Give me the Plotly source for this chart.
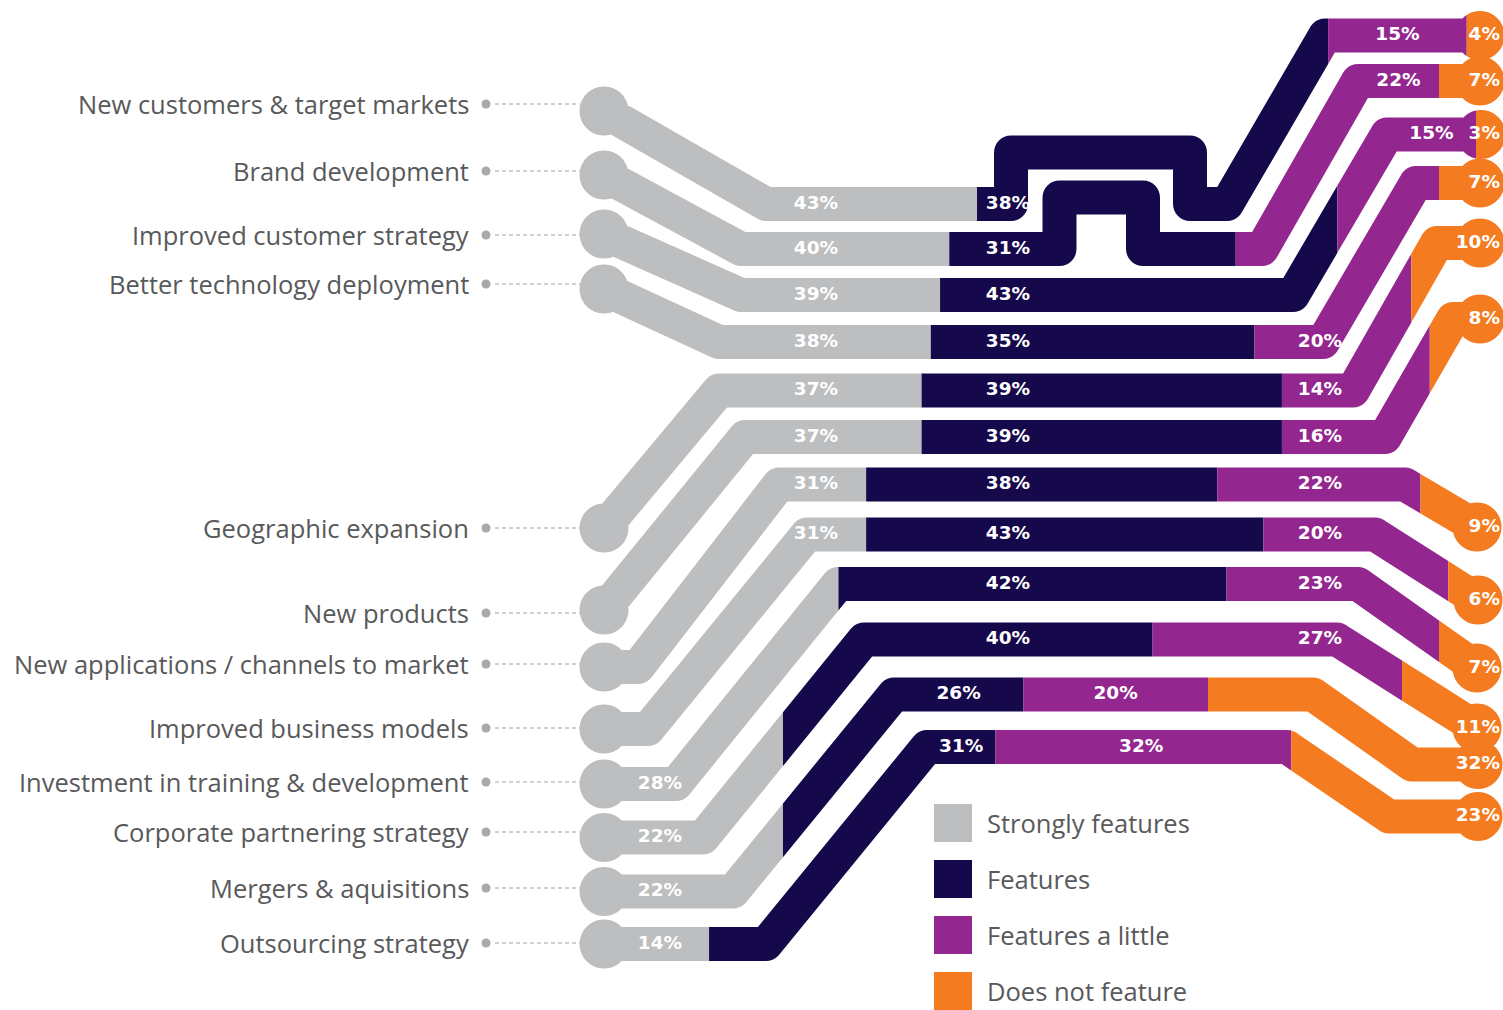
import numpy as np
import plotly.graph_objects as go

categories = ["New customers & target markets", "Brand development",
              "Improved customer strategy", "Better technology deployment",
              "Geographic expansion", "New products",
              "New applications / channels to market", "Improved business models",
              "Investment in training & development", "Corporate partnering strategy",
              "Mergers & aquisitions", "Outsourcing strategy"]
strongly = [43, 40, 39, 38, 37, 37, 31, 31, 28, 22, 22, 14]
features = [38, 31, 43, 35, 39, 39, 38, 43, 42, 40, 26, 31]
a_little = [15, 22, 15, 20, 14, 16, 22, 20, 23, 27, 20, 32]
not_feat = [4, 7, 3, 7, 10, 8, 9, 6, 7, 11, 32, 23]
series_names = ["Strongly features", "Features", "Features a little", "Does not feature"]
colors = ["#bcbec0", "#15084b", "#93278f", "#f47b20"]

# page geometry (pixels)
W, H = 1503, 1010
X0, K = 579.7, 9.24      # pixel of 0 % and pixels per percentage point
HALF = 17                # half thickness of a track
R_END = 24.5             # radius of the end discs

label_y = [104, 171, 235, 284, 528, 613, 664, 728, 782, 832, 888, 943]
row_y = [204, 249, 295, 342, 390.5, 437, 484.5, 534.5, 584, 639.5, 694.5, 747]
# track layout: left disc -> row -> right disc
routes = [
    [(604, 111), (766, 204), (1011, 204), (1011, 152.5), (1190, 152.5), (1190, 204),
     (1227, 204), (1325, 35.5), (1480, 35.5)],
    [(604, 175), (741, 249), (1059.5, 249), (1059.5, 197.5), (1143, 197.5), (1143, 249),
     (1262, 249), (1358, 81), (1480, 81)],
    [(604, 234), (741, 295), (1293, 295), (1387, 134.5), (1481, 134.5)],
    [(604, 289), (719, 342), (1323, 342), (1416, 183), (1480, 183)],
    [(604, 528), (719, 390.5), (1353, 390.5), (1437, 243), (1480, 243)],
    [(604, 610), (745, 437), (1385, 437), (1453, 319), (1480, 319)],
    [(604, 667), (638, 667), (779, 484.5), (1405, 484.5), (1477, 527)],
    [(604, 729), (648, 729), (807, 534.5), (1375, 534.5), (1478, 600)],
    [(604, 784), (676, 784), (838, 584), (1358, 584), (1477, 668)],
    [(604, 837.5), (703, 837.5), (864, 639.5), (1337, 639.5), (1477, 728)],
    [(604, 891.5), (733, 891.5), (894, 694.5), (1313, 694.5), (1412, 764.5), (1478, 764.5)],
    [(604, 944), (766, 944), (927, 747), (1287, 747), (1389, 816.5), (1478, 816.5)],
]
pref_x = [816, 1008, 1320]
stub_x = 660


def disc(cx, cy, r, n=48):
    t = np.linspace(0, 2 * np.pi, n, endpoint=False)
    return list(zip(cx + r * np.cos(t), cy + r * np.sin(t)))


def band(p, q, h):
    (x1, y1), (x2, y2) = p, q
    L = np.hypot(x2 - x1, y2 - y1)
    nx, ny = -(y2 - y1) / L * h, (x2 - x1) / L * h
    return [(x1 + nx, y1 + ny), (x2 + nx, y2 + ny), (x2 - nx, y2 - ny), (x1 - nx, y1 - ny)]


def orient(poly):
    a = sum(x1 * y2 - x2 * y1 for (x1, y1), (x2, y2) in zip(poly, poly[1:] + poly[:1]))
    return poly if a > 0 else poly[::-1]


def cut(pts, keep, xc):
    out = []
    for i in range(len(pts)):
        a, b = pts[i - 1], pts[i]
        if keep(b):
            if not keep(a):
                t = (xc - a[0]) / (b[0] - a[0])
                out.append((xc, a[1] + t * (b[1] - a[1])))
            out.append(b)
        elif keep(a):
            t = (xc - a[0]) / (b[0] - a[0])
            out.append((xc, a[1] + t * (b[1] - a[1])))
    return out


def clip_x(poly, lo, hi):
    pts = cut(poly, lambda p: p[0] >= lo, lo)
    if len(pts) >= 3:
        pts = cut(pts, lambda p: p[0] <= hi, hi)
    return pts


def pieces(route):
    out = [orient(disc(*route[0], R_END)), orient(disc(*route[-1], R_END))]
    for p, q in zip(route, route[1:]):
        out.append(orient(band(p, q, HALF)))
    for v in route[1:-1]:
        out.append(orient(disc(*v, HALF, 32)))
    return out


def to_pct(px):
    return (px - X0) / K


fig = go.Figure()
vals = [strongly, features, a_little, not_feat]
polys = {j: ([], []) for j in range(4)}
mid_lbl, right_lbl = ([], [], []), ([], [], [])

for r, route in enumerate(routes):
    cum = np.cumsum([0] + [v[r] for v in vals])
    shapes_r = pieces(route)
    horiz = [(min(p[0], q[0]), max(p[0], q[0]), p[1]) for p, q in zip(route, route[1:]) if p[1] == q[1]]
    for j in range(4):
        lo = X0 + K * cum[j] if j > 0 else -1e9
        hi = X0 + K * cum[j + 1] if j < 3 else 1e9
        xs, ys = polys[j]
        for poly in shapes_r:
            c = clip_x(poly, lo, hi)
            if len(c) >= 3:
                xs.extend([to_pct(p[0]) for p in c] + [to_pct(c[0][0]), None])
                ys.extend([p[1] for p in c] + [c[0][1], None])
        txt = f"{vals[j][r]}%"
        if j == 3:
            right_lbl[0].append(to_pct(1500)); right_lbl[1].append(route[-1][1]); right_lbl[2].append(txt)
            continue
        pos = None
        for a, b, y in horiz:
            if y == row_y[r]:
                a2, b2 = max(a - HALF, lo), min(b + HALF, hi)
                if a2 + 18 <= pref_x[j] <= b2 - 18:
                    pos = (pref_x[j], y)
        if pos is None:
            if j == 0:
                pos = (stub_x, route[0][1])
            else:
                best = None
                for a, b, y in horiz:
                    a2, b2 = max(a, lo), min(b, hi)
                    if b2 > a2 and (best is None or b2 - a2 > best[1] - best[0]):
                        best = (a2, b2, y)
                pos = ((best[0] + best[1]) / 2, best[2])
        mid_lbl[0].append(to_pct(pos[0])); mid_lbl[1].append(pos[1]); mid_lbl[2].append(txt)

for j in range(4):
    fig.add_trace(go.Scatter(x=polys[j][0], y=polys[j][1], mode="none", fill="toself",
                             fillcolor=colors[j], name=series_names[j], hoverinfo="skip"))

lbl_font = dict(family="DejaVu Sans", size=18.5, color="white", weight="bold")
fig.add_trace(go.Scatter(x=mid_lbl[0], y=mid_lbl[1], text=mid_lbl[2], mode="text",
                         textposition="middle center", textfont=lbl_font, hoverinfo="skip"))
fig.add_trace(go.Scatter(x=right_lbl[0], y=right_lbl[1], text=right_lbl[2], mode="text",
                         textposition="middle left", textfont=lbl_font, hoverinfo="skip"))

# category labels with dashed leaders
for name, ly in zip(categories, label_y):
    fig.add_annotation(x=471 / W, y=1 - ly / H, xref="paper", yref="paper", text=name,
                       showarrow=False, xanchor="right", yanchor="middle",
                       font=dict(family="Open Sans", size=25.5, color="#58595b"))
    fig.add_shape(type="circle", xref="paper", yref="paper",
                  x0=481.5 / W, x1=490.5 / W, y0=1 - (ly + 4.5) / H, y1=1 - (ly - 4.5) / H,
                  fillcolor="#a7a9ac", line_width=0)
    fig.add_shape(type="line", xref="paper", yref="paper",
                  x0=495 / W, x1=580 / W, y0=1 - ly / H, y1=1 - ly / H,
                  line=dict(color="#a0a2a5", width=1, dash="4px,3px"))

# legend
for j, name in enumerate(series_names):
    cy = 823 + 56 * j
    fig.add_shape(type="rect", xref="paper", yref="paper",
                  x0=934 / W, x1=972 / W, y0=1 - (cy + 19) / H, y1=1 - (cy - 19) / H,
                  fillcolor=colors[j], line_width=0)
    fig.add_annotation(x=985 / W, y=1 - cy / H, xref="paper", yref="paper", text=name,
                       showarrow=False, xanchor="left", yanchor="middle",
                       font=dict(family="Open Sans", size=25.5, color="#58595b"))

fig.update_xaxes(range=[to_pct(0), to_pct(W)], visible=False, fixedrange=True)
fig.update_yaxes(range=[H, 0], visible=False, fixedrange=True)
fig.update_layout(width=W, height=H, margin=dict(l=0, r=0, t=0, b=0),
                  paper_bgcolor="white", plot_bgcolor="white",
                  showlegend=False, hovermode=False)
fig.write_html("out.html", config={"displayModeBar": False},
               post_script="document.body.style.margin='0';"
                           "document.documentElement.style.overflow='hidden';")
